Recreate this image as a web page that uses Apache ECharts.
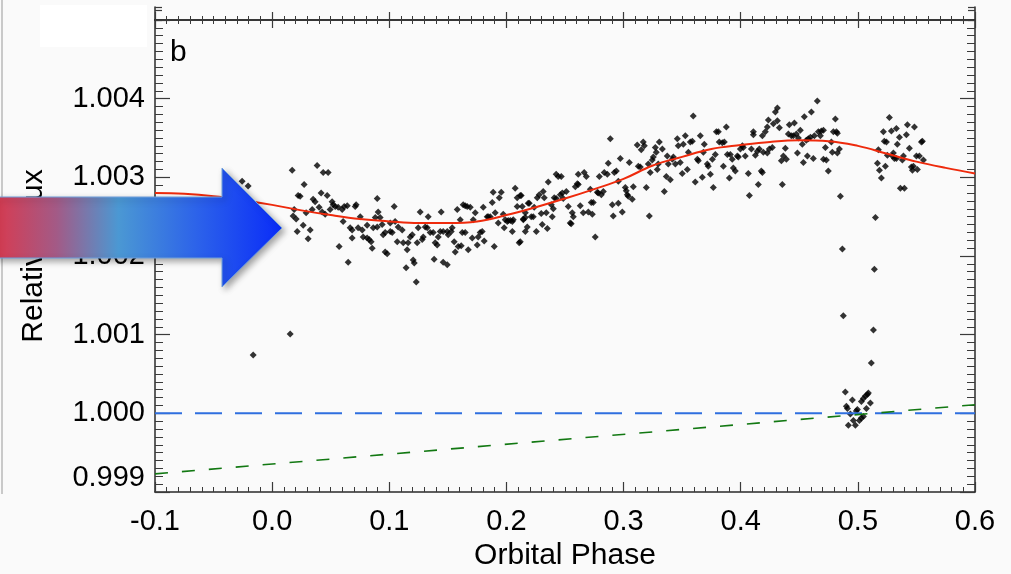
<!DOCTYPE html>
<html>
<head>
<meta charset="utf-8">
<script src="https://cdn.jsdelivr.net/npm/echarts@6/dist/echarts.min.js"></script>
<style>
html,body{margin:0;padding:0;background:#fafafa;}
#chart{width:1011px;height:574px;}
</style>
</head>
<body>
<div id="chart"></div>
<script>
// ---- axis ticks ----
const xTicks = [-0.1, 0.0, 0.1, 0.2, 0.3, 0.4, 0.5, 0.6];
const yTicks = [0.999, 1.000, 1.001, 1.002, 1.003, 1.004, 1.005];

// ---- observed points (orbital phase, relative flux) ----
const obsPhase = [
-0.0256,-0.0205,-0.0162,0.0154,0.0171,0.0384,0.0436,0.0478,0.0273,0.0222,0.0239,0.0188,0.0179,0.0205,0.0265,0.0214,0.0307,0.0325,0.0290,0.0350,
0.0367,0.0342,0.0418,0.0470,0.0401,0.0427,0.0453,0.0512,0.0521,0.0538,0.0495,0.0564,0.0598,0.0615,0.0641,0.0606,0.0572,0.0649,0.0666,0.0683,
0.0683,0.0709,0.0717,0.0752,0.0734,0.0769,0.0777,0.0811,0.0828,0.0845,0.0811,0.0854,0.0897,0.0905,0.0880,0.0922,0.0863,0.0897,0.0939,0.0965,
0.0982,0.0948,0.0965,0.1008,0.1025,0.1042,0.1050,0.1068,0.1076,0.1008,0.1110,0.1119,0.1144,0.1153,0.1161,0.1179,0.1196,0.1213,0.1204,0.1230,
0.1238,0.1264,0.1247,0.1281,0.1290,0.1307,0.1332,0.1324,0.1349,0.1375,0.1392,0.1409,0.1383,0.1418,0.1443,0.1435,0.1460,0.1495,0.1503,0.1529,
0.1460,0.1495,0.1537,0.1554,0.1563,0.1580,0.1588,0.1614,0.1606,0.1623,0.1648,0.1631,0.1648,0.1665,0.1691,0.1674,0.1708,0.1717,0.1734,0.1751,
0.1759,0.1776,0.1793,0.1802,0.1810,0.1836,0.1845,0.1862,0.1879,0.1887,0.1904,0.1896,0.1930,0.1939,0.1956,0.1973,0.1990,0.2007,0.2015,0.2033,
0.2050,0.2058,0.1981,0.2050,0.2075,0.2092,0.2092,0.2109,0.2126,0.2144,0.2161,0.2178,0.2186,0.2161,0.2118,0.2135,0.2144,0.2161,0.2118,0.2195,
0.2212,0.2229,0.2237,0.2255,0.2263,0.2280,0.2297,0.2306,0.2314,0.2323,0.2340,0.2349,0.2357,0.2383,0.2391,0.2400,0.2408,0.2425,0.2425,0.2442,
0.2468,0.2460,0.2477,0.2485,0.2511,0.2528,0.2545,0.2553,0.2562,0.2571,0.2588,0.2605,0.2613,0.2613,0.2630,0.2656,0.2664,0.2682,0.2699,0.2716,
0.2724,0.2733,0.2741,0.2758,0.2776,0.2784,0.2810,0.2793,0.2827,0.2835,0.2861,0.2869,0.2887,0.2904,0.2912,0.2921,0.2938,0.2955,0.2955,0.2972,
0.2989,0.3015,0.3023,0.3032,0.3040,0.3049,0.3074,0.3083,0.3117,0.3126,0.3143,0.3151,0.3168,0.3177,0.3194,0.3211,0.3220,0.3228,0.3245,0.3254,
0.3271,0.3279,0.3288,0.3296,0.3305,0.3331,0.3348,0.3365,0.3373,0.3382,0.3399,0.3416,0.3425,0.3442,0.3459,0.3467,0.3484,0.3501,0.3510,0.3527,
0.3544,0.3553,0.3570,0.3587,0.3595,0.3612,0.3630,0.3638,0.3655,0.3672,0.3681,0.3689,0.3715,0.3723,0.3741,0.3758,0.3766,0.3783,0.3792,0.3809,
0.3817,0.3843,0.3860,0.3852,0.3877,0.3886,0.3911,0.3903,0.3928,0.3937,0.3954,0.3971,0.3980,0.3997,0.4014,0.4022,0.4039,0.4065,0.4074,0.4091,
0.4108,0.4108,0.4125,0.4142,0.4150,0.4159,0.4176,0.4185,0.4193,0.4210,0.4227,0.4236,0.4244,0.4185,0.4227,0.4270,0.4279,0.4296,0.4313,0.4313,
0.4330,0.4347,0.4355,0.4364,0.4381,0.4390,0.4407,0.4415,0.4432,0.4449,0.4458,0.4475,0.4484,0.4492,0.4509,0.4526,0.4535,0.4543,0.4560,0.4577,
0.4569,0.4595,0.4603,0.4620,0.4629,0.4654,0.4663,0.4688,0.4706,0.4680,0.4706,0.4731,0.4723,0.4748,0.4774,0.4782,0.4791,0.4817,0.4825,0.4808,
0.4825,0.4842,0.4851,0.4868,0.4876,0.4893,0.4902,0.4911,0.4936,0.4919,0.4953,0.4962,0.4979,0.4987,0.4996,0.5013,0.5030,0.5047,0.5030,0.5047,
0.5064,0.5081,0.5090,0.5073,0.5107,0.5115,0.5133,0.5141,0.5150,0.5167,0.5175,0.5184,0.5201,0.5218,0.5226,0.5244,0.5235,0.5252,0.5269,0.5286,
0.5295,0.5303,0.5312,0.5329,0.5329,0.5337,0.5355,0.5363,0.5397,0.5380,0.5389,0.5414,0.5423,0.5440,0.5457,0.5474,0.5466,0.5483,0.5500,0.5508,
0.5525,0.5543,0.5551,0.5560
];
const obsFlux = [
1.00295,1.00289,1.00074,1.00101,1.00309,1.00315,1.00306,1.00306,1.00291,1.00277,1.00276,1.00259,1.00251,1.00247,1.00239,1.00231,1.00222,1.00233,1.00255,1.00272,
1.00269,1.00259,1.00280,1.00277,1.00262,1.00256,1.00253,1.00269,1.00265,1.00263,1.00259,1.00262,1.00259,1.00263,1.00264,1.00244,1.00212,1.00192,1.00236,1.00233,
1.00223,1.00263,1.00265,1.00250,1.00236,1.00233,1.00224,1.00223,1.00221,1.00218,1.00239,1.00210,1.00273,1.00256,1.00249,1.00249,1.00236,1.00237,1.00240,1.00205,
1.00203,1.00227,1.00230,1.00231,1.00230,1.00263,1.00244,1.00218,1.00237,1.00242,1.00233,1.00217,1.00185,1.00208,1.00217,1.00224,1.00227,1.00191,1.00195,1.00167,
1.00217,1.00256,1.00236,1.00221,1.00224,1.00237,1.00250,1.00236,1.00230,1.00230,1.00217,1.00214,1.00196,1.00224,1.00256,1.00231,1.00231,1.00231,1.00227,1.00231,
1.00192,1.00189,1.00236,1.00218,1.00205,1.00259,1.00212,1.00213,1.00246,1.00230,1.00230,1.00265,1.00264,1.00263,1.00262,1.00208,1.00223,1.00246,1.00255,1.00214,
1.00224,1.00230,1.00231,1.00262,1.00219,1.00250,1.00250,1.00250,1.00268,1.00281,1.00255,1.00212,1.00242,1.00274,1.00281,1.00253,1.00246,1.00244,1.00245,1.00245,
1.00244,1.00246,1.00236,1.00231,1.00286,1.00274,1.00263,1.00217,1.00277,1.00246,1.00231,1.00237,1.00267,1.00255,1.00277,1.00263,1.00247,1.00249,1.00218,1.00267,
1.00250,1.00250,1.00262,1.00231,1.00274,1.00278,1.00254,1.00240,1.00282,1.00274,1.00255,1.00235,1.00294,1.00265,1.00250,1.00260,1.00274,1.00273,1.00304,1.00301,
1.00301,1.00278,1.00280,1.00273,1.00282,1.00263,1.00242,1.00241,1.00255,1.00250,1.00288,1.00292,1.00291,1.00304,1.00264,1.00255,1.00306,1.00301,1.00256,1.00285,
1.00268,1.00253,1.00268,1.00224,1.00281,1.00280,1.00278,1.00301,1.00282,1.00306,1.00304,1.00318,1.00349,1.00265,1.00251,1.00306,1.00308,1.00267,1.00295,1.00324,
1.00256,1.00287,1.00283,1.00278,1.00276,1.00319,1.00272,1.00288,1.00341,1.00314,1.00313,1.00335,1.00345,1.00340,1.00287,1.00317,1.00251,1.00306,1.00322,1.00326,
1.00338,1.00332,1.00310,1.00317,1.00345,1.00336,1.00282,1.00301,1.00327,1.00317,1.00297,1.00323,1.00326,1.00317,1.00349,1.00340,1.00319,1.00305,1.00342,1.00353,
1.00310,1.00332,1.00345,1.00346,1.00378,1.00294,1.00323,1.00321,1.00353,1.00300,1.00332,1.00342,1.00317,1.00314,1.00304,1.00323,1.00287,1.00329,1.00358,1.00358,
1.00345,1.00344,1.00345,1.00314,1.00364,1.00329,1.00329,1.00299,1.00323,1.00312,1.00308,1.00327,1.00326,1.00336,1.00340,1.00338,1.00327,1.00305,1.00277,1.00336,
1.00358,1.00354,1.00328,1.00333,1.00291,1.00336,1.00308,1.00353,1.00332,1.00358,1.00364,1.00373,1.00336,1.00306,1.00331,1.00338,1.00368,1.00383,1.00388,1.00372,
1.00363,1.00321,1.00291,1.00327,1.00337,1.00323,1.00355,1.00367,1.00353,1.00353,1.00369,1.00355,1.00331,1.00350,1.00360,1.00342,1.00319,1.00377,1.00347,1.00349,
1.00327,1.00351,1.00383,1.00324,1.00353,1.00397,1.00358,1.00359,1.00360,1.00353,1.00323,1.00322,1.00338,1.00308,1.00345,1.00332,1.00358,1.00358,1.00356,1.00374,
1.00331,1.00336,1.00276,1.00209,1.00124,1.00027,1.00009,1.00006,0.99999,0.99985,1.00017,0.99991,0.99985,1.00003,1.00005,0.99991,0.99994,0.99996,1.00015,1.00019,
1.00022,1.00024,1.00026,1.00006,1.00013,1.00064,1.00106,1.00183,1.00249,1.00318,1.00335,1.00309,1.00299,1.00358,1.00346,1.00345,1.00314,1.00328,1.00376,1.00359,
1.00327,1.00331,1.00324,1.00324,1.00362,1.00342,1.00351,1.00286,1.00286,1.00322,1.00327,1.00354,1.00367,1.00337,1.00313,1.00314,1.00309,1.00364,1.00327,1.00310,
1.00327,1.00345,1.00346,1.00322
];

// ---- model phase curve (red) ----
const modelPhase = [-0.1,-0.075,-0.05,-0.025,0.0,0.025,0.05,0.075,0.1,0.125,0.15,0.175,0.2,0.225,0.25,0.275,0.3,0.325,0.35,0.375,0.4,0.425,0.45,0.475,0.5,0.525,0.55,0.575,0.6];
const modelFlux  = [1.00280,1.00279,1.00276,1.00271,1.00265,1.00258,1.00252,1.00247,1.00244,1.00242,1.00242,1.00244,1.00252,1.00262,1.00273,1.00285,1.00298,1.00315,1.00326,1.00336,1.00341,1.00345,1.00347,1.00346,1.00340,1.00330,1.00320,1.00312,1.00305];

// ---- reference lines ----
const unityPhase = [-0.1, 0.6];
const unityFlux  = [1.000, 1.000];
const trendPhase = [-0.1, 0.6];
const trendFlux  = [0.99923, 1.00011];

const zip = (a, b) => a.map((v, i) => [v, b[i]]);

const FONT = '"Liberation Sans", Arial, Helvetica, sans-serif';
const AX = '#2a2a2a';
const TK = '#3a3a3a';

const chart = echarts.init(document.getElementById('chart'), null, {renderer: 'canvas'});

const xBase = {
  type: 'value', min: xTicks[0], max: xTicks[xTicks.length - 1], interval: 0.1,
  splitLine: {show: false}, minorSplitLine: {show: false},
  axisLine: {show: true, onZero: false, lineStyle: {color: AX, width: 1.5}}
};
const yBase = {
  type: 'value', min: yTicks[0], max: yTicks[yTicks.length - 1], interval: 0.001,
  splitLine: {show: false}, minorSplitLine: {show: false},
  axisLine: {show: true, onZero: false, lineStyle: {color: AX, width: 1.5}}
};

const option = {
  backgroundColor: '#fafafa',
  animation: false,
  textStyle: {fontFamily: FONT},
  grid: [
    {left: 155, right: 36, top: 20, bottom: 82, outerBoundsMode: 'none', containLabel: false},
    {left: 155, right: 36, top: 7, bottom: 554, outerBoundsMode: 'none', containLabel: false}
  ],
  xAxis: [
    Object.assign({}, xBase, {
      gridIndex: 0, position: 'bottom',
      axisTick: {show: true, inside: true, length: 10, lineStyle: {color: TK, width: 1.2}},
      minorTick: {show: true, splitNumber: 10, length: 5, lineStyle: {color: TK, width: 1}},
      axisLabel: {show: true, fontSize: 29, color: '#000', margin: 15, fontFamily: FONT,
        formatter: v => v.toFixed(1)},
      name: 'Orbital Phase', nameLocation: 'middle', nameGap: 46,
      nameTextStyle: {fontSize: 30, color: '#000', fontFamily: FONT}
    }),
    Object.assign({}, xBase, {
      gridIndex: 0, position: 'top',
      axisTick: {show: true, inside: true, length: 8, lineStyle: {color: TK, width: 1.2}},
      minorTick: {show: true, splitNumber: 10, length: 4, lineStyle: {color: TK, width: 1}},
      axisLabel: {show: false}
    }),
    Object.assign({}, xBase, {
      gridIndex: 1, position: 'bottom',
      axisTick: {show: true, inside: true, length: 8, lineStyle: {color: TK, width: 1.2}},
      minorTick: {show: true, splitNumber: 10, length: 4, lineStyle: {color: TK, width: 1}},
      axisLabel: {show: false}
    })
  ],
  yAxis: [
    Object.assign({}, yBase, {
      gridIndex: 0, position: 'left',
      axisTick: {show: true, inside: true, length: 15, lineStyle: {color: TK, width: 1.2}},
      minorTick: {show: true, splitNumber: 10, length: 8, lineStyle: {color: TK, width: 1}},
      axisLabel: {show: true, fontSize: 29, color: '#000', margin: 10, fontFamily: FONT,
        showMaxLabel: false, verticalAlignMinLabel: 'bottom',
        formatter: v => v.toFixed(3)},
      name: 'Relative Flux', nameLocation: 'middle', nameGap: 106,
      nameTextStyle: {fontSize: 30, color: '#000', fontFamily: FONT}
    }),
    Object.assign({}, yBase, {
      gridIndex: 0, position: 'right',
      axisTick: {show: true, inside: true, length: 15, lineStyle: {color: TK, width: 1.2}},
      minorTick: {show: true, splitNumber: 10, length: 8, lineStyle: {color: TK, width: 1}},
      axisLabel: {show: false}
    }),
    {
      type: 'value', gridIndex: 1, position: 'left', min: 0, max: 13, interval: 10,
      splitLine: {show: false},
      axisLine: {show: true, onZero: false, lineStyle: {color: AX, width: 1.5}},
      axisTick: {show: true, inside: true, length: 7, lineStyle: {color: TK, width: 1.2}},
      axisLabel: {show: false}
    },
    {
      type: 'value', gridIndex: 1, position: 'right', min: 0, max: 13, interval: 10,
      splitLine: {show: false},
      axisLine: {show: true, onZero: false, lineStyle: {color: AX, width: 1.5}},
      axisTick: {show: true, inside: true, length: 7, lineStyle: {color: TK, width: 1.2}},
      axisLabel: {show: false}
    }
  ],
  series: [
    {
      type: 'scatter', xAxisIndex: 0, yAxisIndex: 0,
      data: zip(obsPhase, obsFlux),
      symbol: 'diamond', symbolSize: 7,
      itemStyle: {color: '#000'}, z: 3
    },
    {
      type: 'line', xAxisIndex: 0, yAxisIndex: 0,
      data: zip(unityPhase, unityFlux), showSymbol: false, symbol: 'none',
      lineStyle: {color: '#2f6fdf', width: 2, type: [27, 13]}, z: 4
    },
    {
      type: 'line', xAxisIndex: 0, yAxisIndex: 0,
      data: zip(trendPhase, trendFlux), showSymbol: false, symbol: 'none',
      lineStyle: {color: '#127812', width: 1.6, type: [13, 14]}, z: 4
    },
    {
      type: 'line', xAxisIndex: 0, yAxisIndex: 0,
      data: zip(modelPhase, modelFlux), showSymbol: false, symbol: 'none',
      smooth: 0.4,
      lineStyle: {color: '#ee2a0c', width: 2}, z: 5
    }
  ],
  graphic: [
    {type: 'rect', shape: {x: 40, y: 5, width: 107, height: 42}, style: {fill: '#ffffff'}, z: 1, silent: true},
    {type: 'line', shape: {x1: 2, y1: 0, x2: 2, y2: 494}, style: {stroke: '#b8b8b8', lineWidth: 1.5}, z: 1, silent: true},
    {type: 'text', left: 170, top: 38, style: {text: 'b', fontSize: 30, fontFamily: FONT, fill: '#000'}, z: 10},
    {
      type: 'polygon', z: 100, silent: true,
      shape: {points: [[-5, 197], [222, 197], [222, 168], [282, 228], [222, 287], [222, 258], [-5, 258]]},
      style: {
        fill: new echarts.graphic.LinearGradient(0, 0, 282, 0, [
          {offset: 0, color: '#d43d54'},
          {offset: 0.2, color: '#a35a86'},
          {offset: 0.42, color: '#4b98d3'},
          {offset: 0.7, color: '#2c62ea'},
          {offset: 1, color: '#0a2cf8'}
        ], true),
        stroke: '#6f9fdc', lineWidth: 1,
        shadowBlur: 6, shadowColor: 'rgba(0,0,0,0.35)', shadowOffsetX: 3, shadowOffsetY: 3
      }
    }
  ]
};
chart.setOption(option);
</script>
</body>
</html>
